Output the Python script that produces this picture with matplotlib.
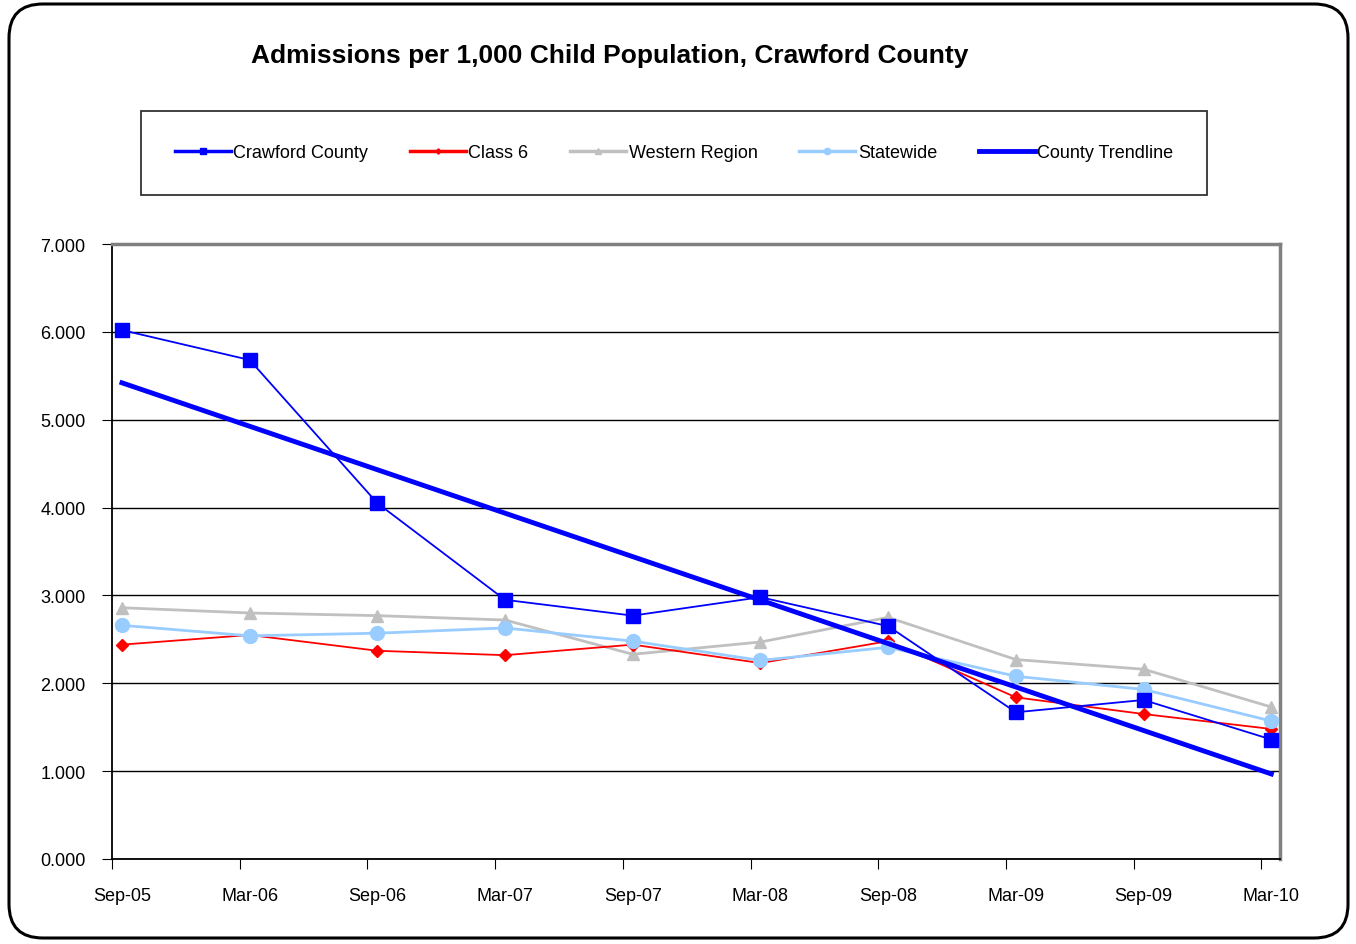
import numpy as np
import matplotlib
matplotlib.use("Agg")
import matplotlib.pyplot as plt
from matplotlib.patches import FancyBboxPatch

plt.rcParams['font.family'] = ['Liberation Sans', 'DejaVu Sans']

# data
periods = ['Sep-05', 'Mar-06', 'Sep-06', 'Mar-07', 'Sep-07',
           'Mar-08', 'Sep-08', 'Mar-09', 'Sep-09', 'Mar-10']
crawford = [6.02, 5.68, 4.05, 2.95, 2.77, 2.98, 2.65, 1.67, 1.81, 1.36]
class6 = [2.44, 2.55, 2.37, 2.32, 2.44, 2.23, 2.48, 1.84, 1.65, 1.48]
western = [2.86, 2.80, 2.77, 2.72, 2.33, 2.47, 2.75, 2.27, 2.16, 1.73]
statewide = [2.66, 2.54, 2.57, 2.63, 2.48, 2.26, 2.41, 2.08, 1.93, 1.57]
yticks = [0, 1, 2, 3, 4, 5, 6, 7]

W, H = 1356, 945
fig = plt.figure(figsize=(W / 100, H / 100), dpi=100)

# rounded chart-area frame
frame = FancyBboxPatch((9 / W, 6 / H), (1339 / W), (934 / H),
                       boxstyle="round,pad=0,rounding_size=0.025",
                       transform=fig.transFigure, fill=False,
                       edgecolor='black', linewidth=2.2, mutation_aspect=W / H)
fig.patches.append(frame)

ax = fig.add_axes([112 / W, (H - 860) / H, (1280 - 112) / W, (860 - 245) / H])

# points sit a bit right of the tick marks (date axis)
off = 0.078
x = np.arange(len(periods)) + off

ax.plot(x, crawford, color='#0000FF', lw=1.3, marker='s', ms=10,
        label='Crawford County', zorder=6)
ax.plot(x, class6, color='#FF0000', lw=1.3, marker='D', ms=6,
        label='Class 6', zorder=3)
ax.plot(x, western, color='#C0C0C0', lw=2, marker='^', ms=9,
        label='Western Region', zorder=2)
ax.plot(x, statewide, color='#99CCFF', lw=2, marker='o', ms=10,
        label='Statewide', zorder=4)

# linear trendline for the county
slope, icpt = np.polyfit(np.arange(len(periods)), crawford, 1)
trend = slope * np.arange(len(periods)) + icpt
ax.plot(x[[0, -1]], trend[[0, -1]], color='#0000FF', lw=3.5,
        label='County Trendline', zorder=5)

ax.set_xlim(0, 9.146)
ax.set_ylim(0, 7)
ax.set_yticks(yticks)
ax.set_yticklabels(['%.3f' % v for v in yticks], fontsize=13)
ax.yaxis.grid(True, color='black', lw=1)
ax.set_axisbelow(True)

ax.set_xticks(np.arange(len(periods)))
ax.set_xticklabels([])
ax.set_xticks(x, minor=True)
ax.set_xticklabels(periods, minor=True, fontsize=13)
ax.tick_params(axis='x', which='minor', length=0, pad=20)
ax.tick_params(axis='x', which='major', length=7, direction='out')
ax.tick_params(axis='y', length=7, direction='out', pad=12)

for s in ['left', 'bottom']:
    ax.spines[s].set_color('black')
    ax.spines[s].set_linewidth(1.3)
for s in ['top', 'right']:
    ax.spines[s].set_color('#808080')
    ax.spines[s].set_linewidth(2.5)

fig.text(610 / W, 1 - 56 / H, 'Admissions per 1,000 Child Population, Crawford County',
         ha='center', va='center', fontsize=19, fontweight='bold')

leg = fig.legend(loc='center', bbox_to_anchor=(674 / W, 1 - 154 / H), ncol=5,
                 fontsize=13, frameon=True, fancybox=False,
                 handlelength=3.1, handletextpad=0.15, columnspacing=2.3,
                 borderpad=1.85, borderaxespad=0, markerscale=0.45)
leg.get_frame().set_edgecolor('black')
leg.get_frame().set_linewidth(1.3)
for h in leg.legend_handles:
    h.set_linewidth(max(h.get_linewidth(), 2.5))

fig.savefig('out.png', dpi=100, facecolor='white')
